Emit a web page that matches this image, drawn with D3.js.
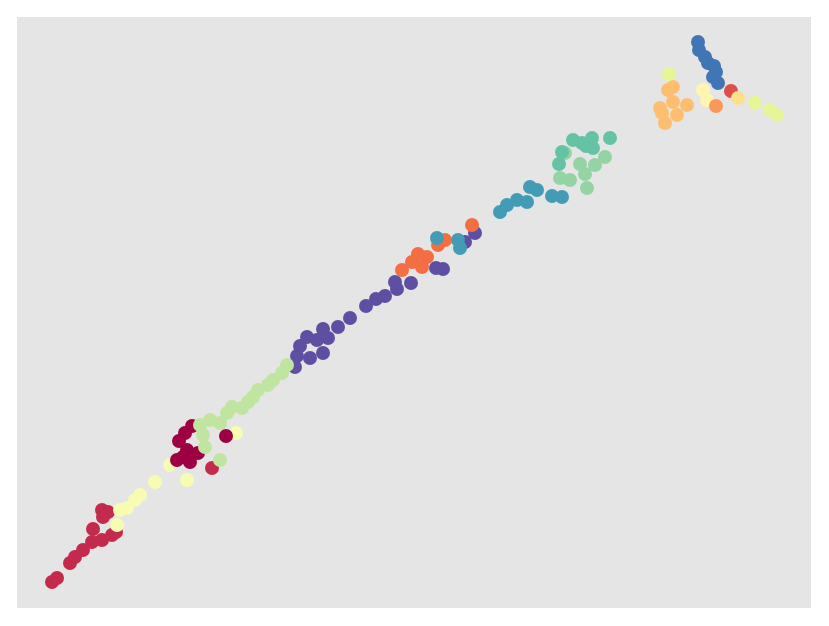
<!DOCTYPE html>
<html>
<head>
<meta charset="utf-8">
<script src="https://cdn.jsdelivr.net/npm/d3@7"></script>
<style>
  html, body { margin: 0; padding: 0; background: #ffffff; }
  svg { display: block; }
</style>
</head>
<body>
<svg id="chart" width="829" height="626"></svg>
<script>
// ---- DATA (embedding coordinates, per class label 0..15) ----
const class0 = [[17.5,18.2],[16.8,17.5],[16.2,16.7],[17.0,15.8],[16.0,14.8],[17.3,14.6],[18.1,15.5],[16.6,15.1],[20.9,17.2]];
const class1 = [[3.5,2.6],[4.0,3.0],[5.3,4.5],[5.8,5.1],[6.6,5.8],[7.5,6.6],[7.6,7.9],[8.5,6.8],[8.5,9.8],[9.1,9.6],[8.6,9.1],[9.5,7.3],[9.9,7.6],[19.5,14.0]];
const class2 = [[71.4,51.7]];
const class3 = [[38.5,33.8],[39.5,34.6],[40.1,35.4],[41.0,35.1],[40.5,34.1],[42.1,36.3],[42.8,36.8],[45.5,38.3]];
const class4 = [[69.9,50.2]];
const class5 = [[65.1,51.8],[65.6,52.1],[65.6,50.6],[67.0,50.3],[64.3,50.0],[64.5,49.5],[66.0,49.3],[64.8,48.5]];
const class6 = [[72.1,51.0]];
const class7 = [[68.6,51.8],[69.0,50.8]];
const class8 = [[10.3,9.8],[11.0,10.0],[10.0,8.3],[11.8,10.8],[12.3,11.3],[13.8,12.6],[15.3,14.3],[17.0,12.8],[21.9,17.5]];
const class9 = [[65.2,53.4],[73.8,50.5],[75.3,49.8],[76.0,49.3]];
const class10 = [[27.0,24.3],[26.5,23.5],[25.6,22.8],[25.1,22.3],[24.1,21.8],[23.6,21.1],[23.1,20.6],[22.5,20.0],[21.5,20.1],[21.0,19.5],[20.3,18.5],[19.3,18.8],[18.3,18.3],[18.6,17.3],[18.8,16.1],[20.3,14.8]];
const class11 = [[54.3,43.0],[55.3,42.8],[56.3,44.4],[56.8,43.4],[57.0,42.0],[57.8,44.3],[58.8,45.1],[54.8,45.5]];
const class12 = [[55.6,46.8],[56.5,46.5],[57.5,47.0],[57.6,46.0],[56.9,46.2],[59.3,47.0],[54.5,45.6],[54.2,44.4]];
const class13 = [[42.0,37.0],[44.1,36.8],[44.3,36.0],[48.3,39.6],[49.0,40.3],[50.0,40.8],[51.0,40.6],[51.3,42.1],[52.0,41.8],[53.5,41.2],[54.5,41.1]];
const class14 = [[68.1,56.6],[68.2,55.8],[68.8,55.1],[69.1,54.5],[69.7,54.2],[69.9,53.6],[69.6,53.1],[70.1,52.5]];
const class15 = [[27.8,24.1],[28.0,25.2],[28.3,26.2],[29.0,27.1],[29.3,25.0],[30.6,25.5],[30.0,26.8],[30.6,27.9],[31.1,27.0],[32.1,28.1],[33.3,29.0],[34.9,30.2],[35.9,30.9],[36.8,31.2],[37.8,32.6],[38.0,31.9],[39.4,32.5],[41.9,34.0],[42.6,33.9],[44.8,36.6],[45.8,37.5]];

const classes = [class0,class1,class2,class3,class4,class5,class6,class7,class8,class9,class10,class11,class12,class13,class14,class15];
// order in which the groups are drawn (later = on top)
const drawOrder = [15,3,13,1,8,0,10,11,12,5,9,7,4,2,6,14];
const spectralStops = ["#9e0142","#d53e4f","#f46d43","#fdae61","#fee08b","#ffffbf","#e6f598","#abdda4","#66c2a5","#3288bd","#5e4fa2"];

// ---- LAYOUT ----
const svg = d3.select("#chart");
const panel = {left: 17, top: 17, right: 811, bottom: 608};

const x = d3.scaleLinear().domain([0, 79.4]).range([panel.left, panel.right]);
const y = d3.scaleLinear().domain([0, 59.1]).range([panel.bottom, panel.top]);
const color = d3.scaleSequential(d3.piecewise(d3.interpolateRgb, spectralStops)).domain([0, classes.length - 1]);

svg.append("rect")
  .attr("x", panel.left).attr("y", panel.top)
  .attr("width", panel.right - panel.left).attr("height", panel.bottom - panel.top)
  .attr("fill", "#e5e5e5");

const points = [];
drawOrder.forEach(c => classes[c].forEach(p => points.push({label: c, x: p[0], y: p[1]})));

svg.append("g")
  .selectAll("circle")
  .data(points)
  .join("circle")
  .attr("cx", d => x(d.x))
  .attr("cy", d => y(d.y))
  .attr("r", 7)
  .attr("fill", d => color(d.label));
</script>
</body>
</html>
